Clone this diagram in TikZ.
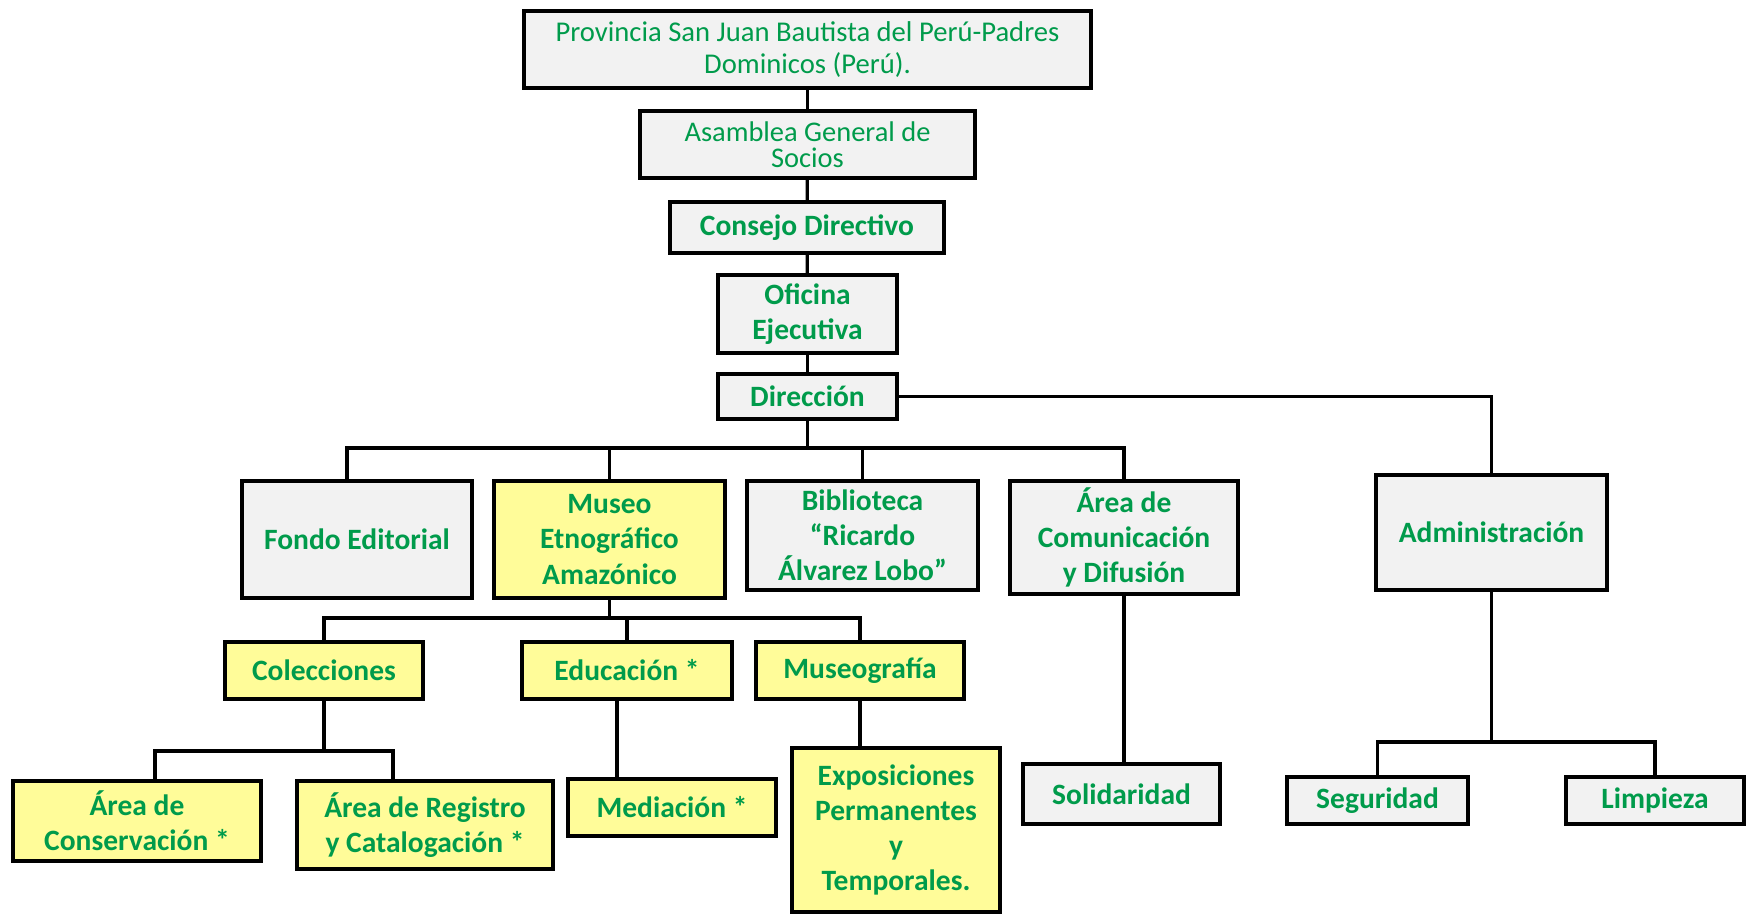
\documentclass[tikz,border=0pt]{standalone}
\usepackage{fontspec}
\setmainfont{Carlito}
\definecolor{boxgray}{RGB}{242,242,242}
\definecolor{boxyellow}{RGB}{255,252,153}
\definecolor{txtgreen}{RGB}{0,155,75}
\begin{document}
\begin{tikzpicture}[x=0.02cm,y=-0.02cm,
    box/.style={draw,line width=2.2pt,fill=boxgray,text=txtgreen,align=center,inner sep=0pt,
      font=\fontsize{16.8}{20}\selectfont\bfseries},
    ybox/.style={box,fill=boxyellow},
    link/.style={line width=1.9pt}]
    \useasboundingbox (0,0) rectangle (1746,914);
    \node[box,minimum width=11.34cm,minimum height=1.54cm,font=\fontsize{16.3}{18.5}\selectfont] (prov) at (807.5,49.5)
        {Provincia San Juan Bautista del Perú-Padres\\Dominicos (Perú).};
    \node[box,minimum width=6.7cm,minimum height=1.34cm,font=\fontsize{16.2}{15}\selectfont] (asam) at (807.5,144.5)
        {Asamblea General de\\Socios};
    \node[box,minimum width=5.48cm,minimum height=1.02cm] (cons) at (807,227.5) {Consejo Directivo};
    \node[box,minimum width=3.58cm,minimum height=1.56cm] (ofic) at (807.5,314) {Oficina\\Ejecutiva};
    \node[box,minimum width=3.58cm,minimum height=0.9cm] (dir) at (807.5,396.5) {Dirección};
    \node[box,minimum width=4.6cm,minimum height=2.34cm] (fondo) at (357,539.5) {Fondo Editorial};
    \node[ybox,minimum width=4.62cm,minimum height=2.34cm] (museo) at (609.5,539.5) {Museo\\Etnográfico\\Amazónico};
    \node[box,minimum width=4.62cm,minimum height=2.18cm] (biblio) at (862.5,535.5) {Biblioteca\\“Ricardo\\Álvarez Lobo”};
    \node[box,minimum width=4.56cm,minimum height=2.26cm] (acom) at (1124,537.5) {Área de\\Comunicación\\y Difusión};
    \node[box,minimum width=4.62cm,minimum height=2.3cm] (admin) at (1491.5,532.5) {Administración};
    \node[ybox,minimum width=3.96cm,minimum height=1.14cm] (colec) at (324,670.5) {Colecciones};
    \node[ybox,minimum width=4.2cm,minimum height=1.14cm] (educ) at (627,670.5) {Educación *};
    \node[ybox,minimum width=4.16cm,minimum height=1.14cm] (museog) at (860,670.5) {Museografía};
    \node[ybox,minimum width=4.96cm,minimum height=1.6cm] (acons) at (137,821) {Área de\\Conservación *};
    \node[ybox,minimum width=5.12cm,minimum height=1.76cm] (areg) at (425,825) {Área de Registro\\y Catalogación *};
    \node[ybox,minimum width=4.16cm,minimum height=1.14cm] (medi) at (672,807.5) {Mediación *};
    \node[ybox,minimum width=4.16cm,minimum height=3.28cm] (expo) at (896,830) {Exposiciones\\Permanentes\\y\\Temporales.};
    \node[box,minimum width=3.94cm,minimum height=1.2cm] (solid) at (1121.5,794) {Solidaridad};
    \node[box,minimum width=3.62cm,minimum height=0.94cm] (segur) at (1377.5,800.5) {Seguridad};
    \node[box,minimum width=3.56cm,minimum height=0.94cm] (limp) at (1655,800.5) {Limpieza};
    \coordinate (bus) at (0,448);
    \coordinate (mbus) at (0,618);
    \coordinate (cbus) at (0,751);
    \coordinate (abus) at (0,742);
    \draw[link] (prov) -- (asam);
    \draw[link] (asam) -- (cons);
    \draw[link] (cons) -- (ofic);
    \draw[link] (ofic) -- (dir);
    \draw[link] (dir.east) -| (admin.north);
    \draw[link] (dir.south) -- (dir.south |- bus);
    \draw[link] ([xshift=-0.2cm]fondo.north) |- (acom.north |- bus) -- (acom.north);
    \draw[link] (museo.north) -- (museo.north |- bus);
    \draw[link] (biblio.north) -- (biblio.north |- bus);
    \draw[link] (museo.south) -- (museo.south |- mbus);
    \draw[link] (colec.north) |- (museog.north |- mbus) -- (museog.north);
    \draw[link] (educ.north) -- (educ.north |- mbus);
    \draw[link] (colec.south) -- (colec.south |- cbus);
    \draw[link] ([xshift=0.36cm]acons.north) |- ([xshift=-0.64cm]areg.north |- cbus) -- ([xshift=-0.64cm]areg.north);
    \draw[link] ([xshift=-0.2cm]educ.south) -- ([xshift=-0.2cm]educ.south |- medi.north);
    \draw[link] (museog.south) -- (museog.south |- expo.north);
    \draw[link] (acom.south) -- (acom.south |- solid.north);
    \draw[link] (admin.south) -- (admin.south |- abus);
    \draw[link] (segur.north) |- (limp.north |- abus) -- (limp.north);
\end{tikzpicture}
\end{document}
